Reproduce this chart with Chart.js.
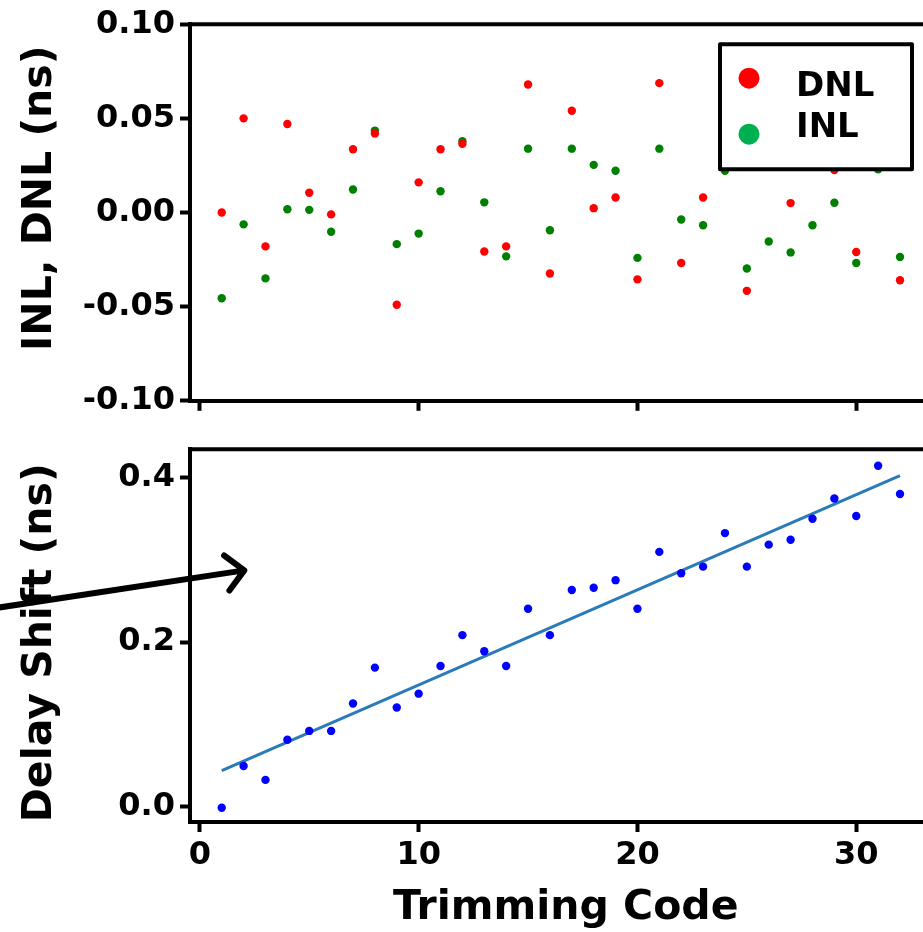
<!DOCTYPE html>
<html>
<head>
<meta charset="utf-8">
<script src="https://cdn.jsdelivr.net/npm/chart.js@4"></script>
<style>
  html, body { margin: 0; padding: 0; background: #fff; overflow: hidden; }
  #wrap { position: relative; width: 923px; height: 932px; overflow: hidden; }
  canvas { position: absolute; left: 0; }
  #nlChart { top: 0; }
  #shiftChart { top: 425px; }
</style>
</head>
<body>
<div id="wrap">
  <canvas id="nlChart" width="960" height="425"></canvas>
  <canvas id="shiftChart" width="960" height="507"></canvas>
</div>
<script>
// Trimming codes 1..32
const codes = [1, 2, 3, 4, 5, 6, 7, 8, 9, 10, 11, 12, 13, 14, 15, 16,
               17, 18, 19, 20, 21, 22, 23, 24, 25, 26, 27, 28, 29, 30, 31, 32];

// DNL / INL in ns (a few DNL points sit behind the legend box)
const dnl = [0.000, 0.050, -0.018, 0.047, 0.0105, -0.001, 0.0336, 0.042,
             -0.049, 0.016, 0.0336, 0.0365, -0.0207, -0.018, 0.068, -0.0324,
             0.054, 0.0023, 0.008, -0.0355, 0.0687, -0.0268, 0.008, 0.045,
             -0.0416, 0.0245, 0.005, 0.035, 0.0226, -0.021, 0.060, -0.036];
const inl = [-0.0455, -0.0063, -0.035, 0.0017, 0.0014, -0.0102, 0.0122, 0.0435,
             -0.0168, -0.0112, 0.0113, 0.0378, 0.0054, -0.0233, 0.0339, -0.0094,
             0.0339, 0.0253, 0.0222, -0.0241, 0.0339, -0.0037, -0.0068, 0.0222,
             -0.0297, -0.0154, -0.0212, -0.0068, 0.0052, -0.0268, 0.0229, -0.0236];

// Delay shift in ns and its linear fit (end points)
const delayShift = [-0.001, 0.0496, 0.0328, 0.0815, 0.0922, 0.0922, 0.1254, 0.169,
                    0.1206, 0.1374, 0.171, 0.2084, 0.1889, 0.171, 0.2404, 0.2084,
                    0.2631, 0.2659, 0.2751, 0.2404, 0.3094, 0.2835, 0.2915, 0.3322,
                    0.2915, 0.3182, 0.3242, 0.3497, 0.3741, 0.3529, 0.414, 0.3796];
const fitCodes = [1, 32];
const fitShift = [0.044, 0.402];

// Tick values
const xTicks = [0, 10, 20, 30];
const nlTicks = [-0.10, -0.05, 0.00, 0.05, 0.10];
const shiftTicks = [0.0, 0.2, 0.4];

const FONT = "'DejaVu Sans', Verdana, sans-serif";
const NB = '\u00a0';
const toPoints = (xs, ys) => xs.map((x, i) => ({ x: x, y: ys[i] }));
const setTicks = vals => axis => { axis.ticks = vals.map(v => ({ value: v })); };

// top spine (right spine is off-canvas in the reference)
const topSpine = {
  id: 'topSpine',
  afterDraw(chart) {
    const ca = chart.chartArea, c = chart.ctx;
    c.save();
    c.strokeStyle = '#000';
    c.lineWidth = 4;
    c.beginPath();
    c.moveTo(ca.left - 2, ca.top);
    c.lineTo(ca.right, ca.top);
    c.stroke();
    c.restore();
  }
};

// boxed legend inside the top plot
const boxLegend = {
  id: 'boxLegend',
  afterDraw(chart) {
    const ca = chart.chartArea, c = chart.ctx;
    const left = ca.left + 530, top = ca.top + 20, w = 192, h = 125;
    c.save();
    c.fillStyle = '#fff';
    c.fillRect(left, top, w, h);
    c.strokeStyle = '#000';
    c.lineWidth = 4;
    c.lineJoin = 'round';
    c.strokeRect(left, top, w, h);
    const items = [['DNL', '#ff0000', 34, 52], ['INL', '#00b050', 90, 92.5]];
    c.font = 'bold 34px ' + FONT;
    c.textBaseline = 'alphabetic';
    items.forEach(([label, col, cy, base]) => {
      c.fillStyle = col;
      c.beginPath();
      c.arc(left + 29, top + cy, 10.5, 0, Math.PI * 2);
      c.fill();
      c.fillStyle = '#000';
      c.fillText(label, left + 76, top + base);
    });
    c.restore();
  }
};

// arrow pointing into the lower plot
const arrow = {
  id: 'arrow',
  afterDraw(chart) {
    const xs = chart.scales.x, ys = chart.scales.y, c = chart.ctx;
    const x0 = xs.getPixelForValue(-10), y0 = ys.getPixelForValue(0.2386);
    const x1 = xs.getPixelForValue(2.03), y1 = ys.getPixelForValue(0.287);
    const ang = Math.atan2(y0 - y1, x0 - x1);
    const len = 25, spread = Math.PI / 4;
    c.save();
    c.strokeStyle = '#000';
    c.lineWidth = 6;
    c.lineCap = 'round';
    c.lineJoin = 'round';
    c.beginPath();
    c.moveTo(x0, y0);
    c.lineTo(x1, y1);
    c.moveTo(x1 + len * Math.cos(ang + spread), y1 + len * Math.sin(ang + spread));
    c.lineTo(x1, y1);
    c.lineTo(x1 + len * Math.cos(ang - spread), y1 + len * Math.sin(ang - spread));
    c.stroke();
    c.restore();
  }
};

const tickFont = { family: FONT, size: 32, weight: 'bold' };
const titleFont = { family: FONT, size: 41, weight: 'bold', lineHeight: 1 };
const gridOpts = { drawOnChartArea: false, tickLength: 10, tickWidth: 4, tickColor: '#000' };
const borderOpts = { color: '#000', width: 4 };
const xMin = -0.45, xMax = 34.55;

new Chart(document.getElementById('nlChart').getContext('2d'), {
  type: 'scatter',
  data: {
    datasets: [{
      label: 'DNL',
      data: toPoints(codes, dnl),
      backgroundColor: '#ff0000',
      pointRadius: 4.2,
      pointBorderWidth: 0
    }, {
      label: 'INL',
      data: toPoints(codes, inl),
      backgroundColor: '#008000',
      pointRadius: 4.2,
      pointBorderWidth: 0
    }]
  },
  options: {
    responsive: false,
    animation: false,
    events: [],
    layout: { padding: { top: 22, bottom: 9.5, left: 0, right: 0 } },
    plugins: { legend: { display: false }, tooltip: { enabled: false } },
    scales: {
      x: {
        type: 'linear', min: xMin, max: xMax,
        afterBuildTicks: setTicks(xTicks),
        ticks: { display: false },
        grid: gridOpts,
        border: borderOpts,
        afterFit: s => { s.height = 12; }
      },
      y: {
        min: -0.1, max: 0.1,
        afterBuildTicks: setTicks(nlTicks),
        ticks: { color: '#000', font: tickFont, padding: 5, callback: v => v.toFixed(2) },
        grid: gridOpts,
        border: borderOpts,
        title: { display: true, text: NB + NB + 'INL, DNL (ns)', color: '#000', font: titleFont, padding: { top: 20, bottom: 0 } },
        afterFit: s => { s.width = 190; }
      }
    }
  },
  plugins: [topSpine, boxLegend]
});

new Chart(document.getElementById('shiftChart').getContext('2d'), {
  type: 'scatter',
  data: {
    datasets: [{
      label: 'Delay shift',
      data: toPoints(codes, delayShift),
      backgroundColor: '#0000ff',
      pointRadius: 4.2,
      pointBorderWidth: 0
    }, {
      type: 'line',
      label: 'Fit',
      data: toPoints(fitCodes, fitShift),
      borderColor: '#2b7bb9',
      borderWidth: 3,
      pointRadius: 0,
      fill: false
    }]
  },
  options: {
    responsive: false,
    animation: false,
    events: [],
    layout: { padding: { top: 19, bottom: 3, left: 0, right: 0 } },
    plugins: { legend: { display: false }, tooltip: { enabled: false } },
    scales: {
      x: {
        type: 'linear', min: xMin, max: xMax,
        afterBuildTicks: setTicks(xTicks),
        ticks: { color: '#000', font: tickFont, padding: 4, callback: v => String(v) },
        grid: gridOpts,
        border: borderOpts,
        title: { display: true, text: 'Trimming Code' + NB, color: '#000', font: titleFont, padding: { top: 0, bottom: 0 } },
        afterFit: s => { s.height = 107; }
      },
      y: {
        min: -0.0183, max: 0.434,
        afterBuildTicks: setTicks(shiftTicks),
        ticks: { color: '#000', font: tickFont, padding: 5, callback: v => v.toFixed(1) },
        grid: gridOpts,
        border: borderOpts,
        title: { display: true, text: 'Delay Shift (ns)' + NB, color: '#000', font: titleFont, padding: { top: 20, bottom: 0 } },
        afterFit: s => { s.width = 190; }
      }
    }
  },
  plugins: [topSpine, arrow]
});
</script>
</body>
</html>
